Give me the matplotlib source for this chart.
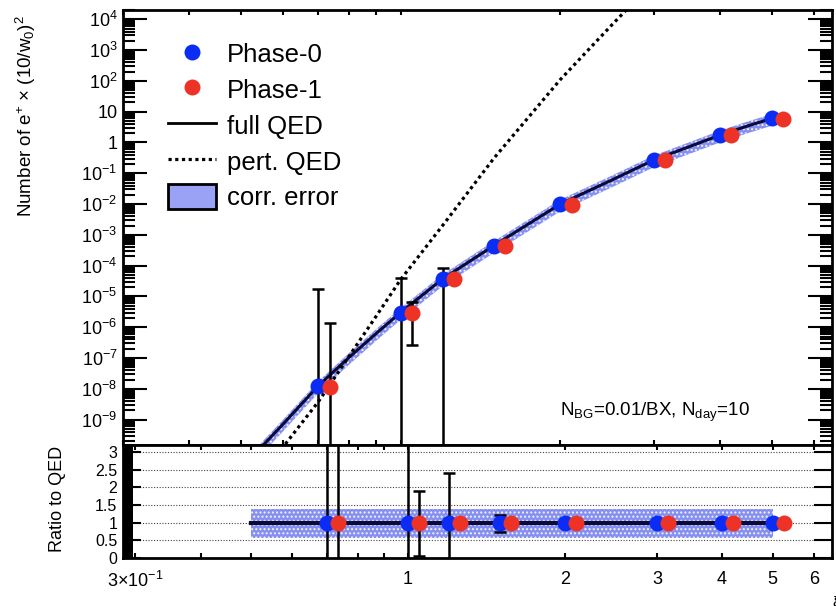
import numpy as np
import matplotlib
matplotlib.use("Agg")
import matplotlib.pyplot as plt
from matplotlib.lines import Line2D
from matplotlib.patches import Patch
from matplotlib.ticker import FixedLocator, FuncFormatter, MultipleLocator, NullFormatter

plt.rcParams['font.family'] = ['Liberation Sans', 'DejaVu Sans']
plt.rcParams['mathtext.fontset'] = 'custom'
plt.rcParams['mathtext.rm'] = 'Liberation Sans'
plt.rcParams['mathtext.it'] = 'Liberation Sans:italic'
plt.rcParams['mathtext.bf'] = 'Liberation Sans:bold'

# data points (Phase-0 / Phase-1)
xi_p0 = [0.7, 1.0, 1.2, 1.5, 2.0, 3.0, 4.0, 5.0]
xi_p1 = [0.735, 1.05, 1.26, 1.575, 2.1, 3.15, 4.2, 5.25]
n_p0 = [1.26e-8, 3.0e-6, 3.7e-5, 4.5e-4, 1.0e-2, 0.27, 1.74, 6.0]
n_p1 = [1.15e-8, 3.0e-6, 3.6e-5, 4.4e-4, 9.5e-3, 0.26, 1.70, 5.9]
# error bar ends (top panel); 1e-14 = off the bottom of the plot
n_p0_lo = [1e-14, 1e-14, 1e-14, 4.5e-4, 1.0e-2, 0.27, 1.74, 6.0]
n_p0_hi = [1.8e-5, 3.9e-5, 8.7e-5, 4.5e-4, 1.0e-2, 0.27, 1.74, 6.0]
n_p1_lo = [1e-14, 2.7e-7, 3.6e-5, 4.4e-4, 9.5e-3, 0.26, 1.70, 5.9]
n_p1_hi = [1.4e-6, 6.6e-6, 3.6e-5, 4.4e-4, 9.5e-3, 0.26, 1.70, 5.9]

# ratio panel
ratio_p0 = [1, 1, 1, 1, 1, 1, 1, 1]
ratio_p1 = [1, 1, 1, 1, 1, 1, 1, 1]
ratio_p0_lo = [-10, -10, -10, 0.75, 1, 1, 1, 1]
ratio_p0_hi = [10, 10, 2.4, 1.22, 1, 1, 1, 1]
ratio_p1_lo = [-10, 0.07, 1, 1, 1, 1, 1, 1]
ratio_p1_hi = [10, 1.9, 1, 1, 1, 1, 1, 1]

# theory curves
xi_full = [0.5, 0.6, 0.7, 0.8, 0.9, 1.0, 1.2, 1.5, 2.0, 2.5, 3.0, 3.5, 4.0, 4.5, 5.0]
n_full = [2.5e-11, 7.0e-10, 1.26e-8, 1.05e-7, 6.3e-7, 3.0e-6, 3.7e-5, 4.5e-4,
          1.0e-2, 6.0e-2, 0.27, 0.73, 1.74, 3.4, 6.0]
xi_pert = [0.5, 0.6, 0.7, 0.8, 0.9, 1.0, 1.2, 1.5, 2.0, 2.5, 3.0]
n_pert = [2.0e-12, 1.26e-10, 3.8e-9, 1.15e-7, 2.3e-6, 3.5e-5, 2.0e-3, 0.31,
          1.1e2, 6.5e3, 1.7e5]
band_lo = 0.58
band_hi = 1.39

blue = '#0a2cf5'
red = '#ec3326'
navy = '#0a0a3c'
band_face = '#6f7cee'

fig = plt.figure(figsize=(8.37, 6.06), dpi=100)
ax = fig.add_axes([123/837, 1-445/606, 709/837, 435/606])
axr = fig.add_axes([123/837, 1-558/606, 709/837, 113/606])

# ---- top panel ----
xf = np.array(xi_full)
yf = np.array(n_full)
ax.fill_between(xf, yf*band_lo, yf*band_hi, facecolor=band_face, edgecolor='white',
                hatch='....', linewidth=0, alpha=0.85, zorder=1)
ax.plot(xi_full, n_full, color=navy, lw=2.2, zorder=2)
ax.plot(xi_pert, n_pert, color='black', lw=2.3, linestyle=(0, (1, 1.1)), zorder=2)

for xs, ys, lo, hi in [(xi_p0, n_p0, n_p0_lo, n_p0_hi), (xi_p1, n_p1, n_p1_lo, n_p1_hi)]:
    ys = np.array(ys)
    ax.errorbar(xs, ys, yerr=[ys-np.array(lo), np.array(hi)-ys], fmt='none',
                ecolor='black', elinewidth=1.8, capsize=4, capthick=1.8, zorder=3)
ax.plot(xi_p0, n_p0, 'o', color=blue, ms=11.5, mec='none', zorder=4)
ax.plot(xi_p1, n_p1, 'o', color=red, ms=11.5, mec='none', zorder=5)

ax.set_xscale('log')
ax.set_yscale('log')
ax.set_xlim(0.3, 6.5)
ax.set_ylim(1.5e-10, 2e4)

def ylab(v, pos):
    e = int(round(np.log10(v)))
    if e == 0:
        return '1'
    if e == 1:
        return '10'
    return r'10$^{%d}$' % e

# only ticks inside the visible range
decades = [10.0**e for e in range(-9, 5)]
minors = [m*10.0**e for e in range(-10, 5) for m in range(2, 10)
          if 1.5e-10 <= m*10.0**e <= 2e4]
ax.yaxis.set_major_locator(FixedLocator(decades))
ax.yaxis.set_minor_locator(FixedLocator(minors))
ax.yaxis.set_major_formatter(FuncFormatter(ylab))
ax.yaxis.set_minor_formatter(NullFormatter())

x_major = [0.3, 1, 2, 3, 4, 5, 6]
x_minor = [0.4, 0.5, 0.6, 0.7, 0.8, 0.9]
ax.xaxis.set_major_locator(FixedLocator(x_major))
ax.xaxis.set_minor_locator(FixedLocator(x_minor))
ax.xaxis.set_major_formatter(NullFormatter())
ax.xaxis.set_minor_formatter(NullFormatter())

ax.tick_params(axis='both', which='both', direction='in', top=True, right=True, width=1.5)
ax.tick_params(axis='y', which='major', length=17, labelsize=13, pad=4)
ax.tick_params(axis='y', which='minor', length=8.5)
ax.tick_params(axis='x', which='both', length=3.5)
for s in ax.spines.values():
    s.set_linewidth(2.0)

ax.set_ylabel(r'Number of e$^{+}$ × (10/w$_{0}$)$^{2}$', fontsize=13.5, loc='top')
ax.yaxis.set_label_coords(-0.12, 0.988)

ax.text(0.616, 0.074, r'N$_{\mathrm{BG}}$=0.01/BX, N$_{\mathrm{day}}$=10', transform=ax.transAxes,
        fontsize=13.5, va='center', ha='left')

leg_patch = Patch(facecolor='#9aa2f6', edgecolor='black', linewidth=2.0)
handles = [Line2D([], [], marker='o', ls='none', color=blue, ms=11.5, mec='none'),
           Line2D([], [], marker='o', ls='none', color=red, ms=11.5, mec='none'),
           Line2D([], [], color='black', lw=2.0),
           Line2D([], [], color='black', lw=2.3, linestyle=(0, (1, 1.1))),
           leg_patch]
labels = ['Phase-0', 'Phase-1', 'full QED', 'pert. QED', 'corr. error']
ax.legend(handles, labels, loc='upper left', bbox_to_anchor=(168/837, 1-41/606),
          bbox_transform=fig.transFigure, frameon=False, fontsize=18.5, borderpad=0,
          borderaxespad=0, handlelength=1.85, handletextpad=0.45, labelspacing=0.38,
          handleheight=1.1)

# ---- ratio panel ----
band_x = [0.5, 5.0]
axr.fill_between(band_x, [band_lo, band_lo], [band_hi, band_hi], facecolor=band_face,
                 edgecolor='white', hatch='....', linewidth=0, alpha=0.85, zorder=1)
axr.plot(band_x, [1, 1], color=navy, lw=3.0, zorder=2)

for xs, ys, lo, hi in [(xi_p0, ratio_p0, ratio_p0_lo, ratio_p0_hi),
                       (xi_p1, ratio_p1, ratio_p1_lo, ratio_p1_hi)]:
    ys = np.array(ys, dtype=float)
    axr.errorbar(xs, ys, yerr=[ys-np.array(lo), np.array(hi)-ys], fmt='none',
                 ecolor='black', elinewidth=1.8, capsize=4, capthick=1.8, zorder=3)
axr.plot(xi_p0, ratio_p0, 'o', color=blue, ms=11.5, mec='none', zorder=4)
axr.plot(xi_p1, ratio_p1, 'o', color=red, ms=11.5, mec='none', zorder=5)

axr.set_xscale('log')
axr.set_xlim(0.284, 6.5)
axr.set_ylim(0, 3.2)
axr.xaxis.set_major_locator(FixedLocator(x_major))
axr.xaxis.set_minor_locator(FixedLocator(x_minor))
axr.xaxis.set_major_formatter(FuncFormatter(
    lambda v, p: r'3×10$^{-1}$' if abs(v-0.3) < 1e-6 else '%g' % v))
axr.xaxis.set_minor_formatter(NullFormatter())
axr.yaxis.set_major_locator(FixedLocator([0, 0.5, 1, 1.5, 2, 2.5, 3]))
axr.yaxis.set_minor_locator(MultipleLocator(0.05))
axr.yaxis.set_major_formatter(FuncFormatter(lambda v, p: '%g' % v))
axr.yaxis.grid(True, which='major', color='#444444', lw=0.8, linestyle=(0, (1, 1.5)))

axr.tick_params(axis='both', which='both', direction='in', top=True, right=True, width=1.5)
axr.tick_params(axis='y', which='major', length=13, labelsize=11.5, pad=4)
axr.tick_params(axis='y', which='minor', length=7, right=False)
axr.tick_params(axis='x', which='both', length=3.5, labelsize=13, pad=9)
for s in axr.spines.values():
    s.set_linewidth(2.0)

axr.set_ylabel('Ratio to QED', fontsize=13, loc='top')
axr.yaxis.set_label_coords(-0.08, 0.99)
axr.set_xlabel('ξ', fontsize=11, loc='right')
axr.xaxis.set_label_coords(1.01, -0.33)

fig.savefig('out.png', dpi=100)
